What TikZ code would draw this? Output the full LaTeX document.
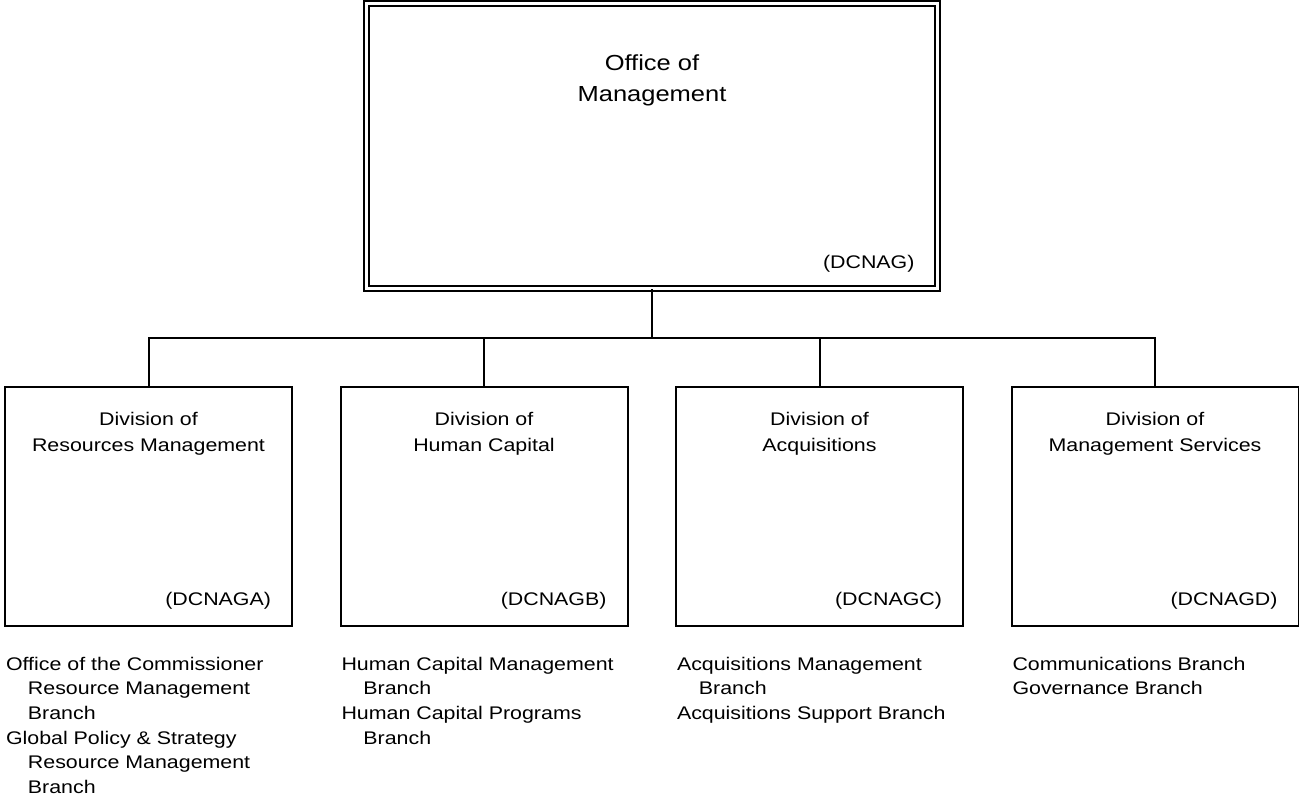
\documentclass[tikz,border=0pt]{standalone}
\usepackage{fontspec}
\setmainfont{Liberation Sans}[FakeStretch=1.17]
\usetikzlibrary{calc}

\tikzset{
  office/.style={draw,double,double distance=1.7pt,line width=1.1pt,minimum width=11.41cm,minimum height=5.70cm},
  division/.style={draw,line width=1.14pt,minimum width=5.74cm,minimum height=4.78cm},
  divname/.style={align=center,font=\fontsize{10.4}{14.8}\selectfont},
  code/.style={anchor=east,inner sep=0pt,font=\fontsize{10.4}{12}\selectfont},
  branches/.style={anchor=north west,inner sep=0pt,align=left,font=\fontsize{10.4}{14}\selectfont}
}
\newcommand{\ind}{\hspace*{12.5pt}}

\begin{document}
\begin{tikzpicture}[-,line width=1.14pt,color=black]
  \useasboundingbox (0,0) rectangle (25.98,-16.02);
  % head office
  \node[office] (om) at (13.04,-2.92){};
  \node[align=center,font=\fontsize{12.4}{17.6}\selectfont] (omname) at (13.04,-1.60){Office of\\Management};
  \node[code] (omcode) at (18.31,-5.28){(DCNAG)};
  \coordinate (bus) at (13.04,-6.76);
  \draw (om) -- (bus);
  % divisions
  \begin{scope}[xshift=2.97cm]
    \node[division] (d1) at (0,-10.12){};
    \node[divname] (d1name) at (0,-8.68){Division of\\Resources Management};
    \node[code] (d1code) at (2.47,-12.02){(DCNAGA)};
    \node[branches] (d1list) at (-2.87,-13.12){Office of the Commissioner\\\ind Resource Management\\\ind Branch\\Global Policy \& Strategy\\\ind Resource Management\\\ind Branch};
    \draw (bus) -| (d1);
  \end{scope}
  \begin{scope}[xshift=9.68cm]
    \node[division] (d2) at (0,-10.12){};
    \node[divname] (d2name) at (0,-8.68){Division of\\Human Capital};
    \node[code] (d2code) at (2.47,-12.02){(DCNAGB)};
    \node[branches] (d2list) at (-2.87,-13.12){Human Capital Management\\\ind Branch\\Human Capital Programs\\\ind Branch};
    \draw (bus) -| (d2);
  \end{scope}
  \begin{scope}[xshift=16.39cm]
    \node[division] (d3) at (0,-10.12){};
    \node[divname] (d3name) at (0,-8.68){Division of\\Acquisitions};
    \node[code] (d3code) at (2.47,-12.02){(DCNAGC)};
    \node[branches] (d3list) at (-2.87,-13.12){Acquisitions Management\\\ind Branch\\Acquisitions Support Branch};
    \draw (bus) -| (d3);
  \end{scope}
  \begin{scope}[xshift=23.10cm]
    \node[division] (d4) at (0,-10.12){};
    \node[divname] (d4name) at (0,-8.68){Division of\\Management Services};
    \node[code] (d4code) at (2.47,-12.02){(DCNAGD)};
    \node[branches] (d4list) at (-2.87,-13.12){Communications Branch\\Governance Branch};
    \draw (bus) -| (d4);
  \end{scope}
\end{tikzpicture}
\end{document}
